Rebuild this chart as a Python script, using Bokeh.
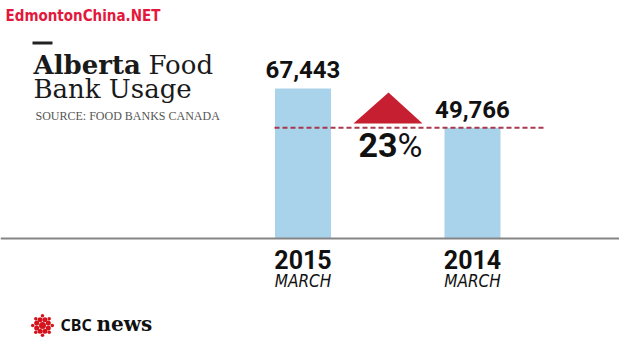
import math
from bokeh.plotting import figure
from bokeh.models import Range1d, Span, Label, ColumnDataSource
from bokeh.core.properties import value
from bokeh.embed import file_html
from bokeh.resources import INLINE

# ---- data ----
years = ["2015", "2014"]
months = ["MARCH", "MARCH"]
usage = [67443, 49766]
value_labels = ["67,443", "49,766"]
change_number = "23"
change_symbol = "%"
title_bold = "Alberta"
title_rest = "Food"
title_line2 = "Bank Usage"
source = "SOURCE: FOOD BANKS CANADA"

# ---- layout (pixels) ----
W, H = 619, 341
def fx(xp):
    return xp
def fy(yp):
    return H - yp
def mid(baseline, size):
    return baseline - 0.36 * size

base_page = 238
bar_px = 150.0
k = max(usage) / bar_px
y0 = -(H - base_page) * k
y1 = base_page * k
bar_x = [fx(302.5), fx(472)]
bar_w = 56

COND = "'DejaVu Sans Condensed', Roboto, sans-serif"

p = figure(width=W, height=H, output_backend="svg", toolbar_location=None,
           x_range=Range1d(0, W), y_range=Range1d(y0, y1), min_border=0)
p.extra_y_ranges = {"px": Range1d(0, H)}
p.xaxis.visible = False
p.yaxis.visible = False
p.grid.visible = False
p.outline_line_color = None
p.background_fill_color = "white"
p.border_fill_color = "white"

src = ColumnDataSource(dict(x=bar_x, top=usage, lab=value_labels, yr=years, mo=months,
                            zero=[0, 0]))

p.vbar(x="x", top="top", bottom=0, width=bar_w, source=src,
       fill_color="#a9d3ea", line_color=None)

p.add_layout(Span(location=0, dimension="width", line_color="#858585", line_width=2))

p.line(x=[fx(274), fx(545)], y=[usage[1], usage[1]], line_color="#a8384c",
       line_width=2, line_dash="5 3")

p.patch(x=[fx(353), fx(388), fx(422)], y=[fy(123), fy(92), fy(123)],
        y_range_name="px", fill_color="#c61f31", line_color=None)

p.text(x="x", y="top", text="lab", source=src, text_align="center",
       text_baseline="middle", y_offset=-(10 + 0.36 * 24), text_font=value("Roboto"),
       text_font_style="bold", text_font_size="24px", text_color="#111111")

p.text(x="x", y="zero", text="yr", source=src, text_align="center",
       text_baseline="middle", y_offset=30 - 0.36 * 25, text_font=value("Roboto"),
       text_font_style="bold", text_font_size="25px", text_color="#111111")
p.text(x="x", y="zero", text="mo", source=src, text_align="center",
       text_baseline="middle", y_offset=49 - 0.36 * 17, text_font=value(COND),
       text_font_style="italic", text_font_size="17px", text_color="#111111")

def lab(x, baseline, text, size, font, style="normal", color="#111111", align="left"):
    p.add_layout(Label(x=fx(x), y=fy(mid(baseline, size)), x_units="screen", y_units="screen",
                       text=text, text_align=align, text_baseline="middle",
                       text_font=font, text_font_style=style, text_font_size=f"{size}px",
                       text_color=color))

lab(397, 157, change_number, 34, "Roboto", "bold", align="right")
lab(397, 157, change_symbol, 34, "Roboto")

p.quad(left=fx(32), right=fx(52), bottom=fy(44), top=fy(41), y_range_name="px",
       fill_color="#222222", line_color=None)
lab(33, 74, title_bold, 26, "DejaVu Serif", "bold", "#1a1a1a")
lab(148, 74, title_rest, 26, "DejaVu Serif", "normal", "#1a1a1a")
lab(33, 98, title_line2, 26, "DejaVu Serif", "normal", "#1a1a1a")
lab(35, 120, source, 12, "Liberation Serif", "normal", "#555555")

lab(5, 21, "EdmontonChina.NET", 15, COND, "bold", "#e3183c")

cx, cy = fx(42), fy(325)
gx, gy, gs = [cx], [cy], [7]
for i in range(8):
    a = math.pi / 8 + i * math.pi / 4
    gx.append(cx + 6.3 * math.cos(a)); gy.append(cy + 6.3 * math.sin(a)); gs.append(5)
for i in range(4):
    a = math.pi / 4 + i * math.pi / 2
    gx.append(cx + 9.5 * math.cos(a)); gy.append(cy + 9.5 * math.sin(a)); gs.append(3.5)
for i in range(4):
    a = i * math.pi / 2
    gx.append(cx + 9.8 * math.cos(a)); gy.append(cy + 9.8 * math.sin(a)); gs.append(3.5)
p.scatter(x=gx, y=gy, size=gs, marker="circle", y_range_name="px",
          fill_color="#d4141c", line_color=None)
lab(60, 330, "CBC", 16, "Noto Sans", "bold")
lab(96, 331, "news", 20, "DejaVu Serif", "bold")

open("out.html", "w").write(file_html(p, INLINE))
